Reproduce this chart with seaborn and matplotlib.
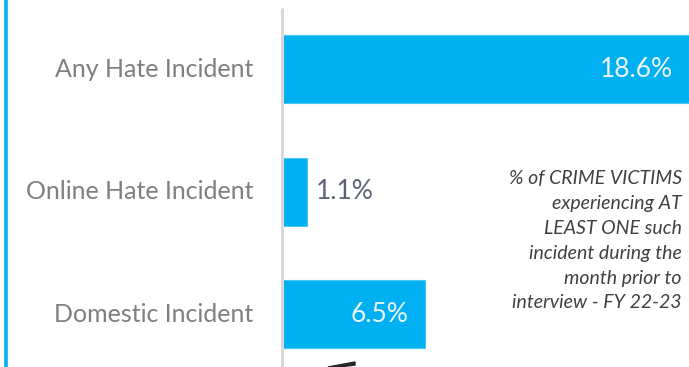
import matplotlib
matplotlib.use("Agg")
import matplotlib.pyplot as plt
import seaborn as sns
import pandas as pd
from matplotlib.patches import Polygon
from matplotlib.lines import Line2D

categories = ["Any Hate Incident", "Online Hate Incident", "Domestic Incident"]
values = [18.6, 1.1, 6.5]
value_labels = ["18.6%", "1.1%", "6.5%"]
note_lines = ["% of CRIME VICTIMS", "experiencing AT", "LEAST ONE such",
              "incident during the", "month prior to", "interview - FY 22-23"]

BLUE = "#00B0F0"
FONT = ["Lato", "DejaVu Sans"]

sns.set_theme(style="white")
plt.rcParams["font.family"] = FONT

df = pd.DataFrame({"category": categories, "value": values})

W, H = 689, 367
fig = plt.figure(figsize=(W / 100, H / 100), dpi=100)
ax = fig.add_axes([283 / W, 0, 406 / W, 1])

sns.barplot(data=df, y="category", x="value", order=categories, color=BLUE,
            saturation=1, width=0.555, edgecolor="#4cc8f4", linewidth=0.8, ax=ax)

ax.set_xlim(0, 18.6)
ax.set_ylim(2.429, -0.567)
ax.set_xlabel("")
ax.set_ylabel("")
ax.set_xticks([])
ax.set_yticks([])
for s in ax.spines.values():
    s.set_visible(False)

# category axis line
ax.plot([-0.05, -0.05], [2.429, -0.5], color="#d9d9d9", lw=2.2, clip_on=False,
        solid_capstyle="butt")

# category labels
for i, cat in enumerate(categories):
    fig.text(253 / W, 1 - (69.5 + 122.5 * i) / H, cat, ha="right", va="center",
             fontsize=18, color="#7f7f7f")

# value labels
for i, (v, lab) in enumerate(zip(values, value_labels)):
    if v > 3:
        ax.text(v - 0.75, i, lab, ha="right", va="center", fontsize=19,
                color="#eaf6fc")
    else:
        ax.text(v + 0.42, i, lab, ha="left", va="center", fontsize=19,
                color="#5b6473")

# side note
for j, line in enumerate(note_lines):
    fig.text(682 / W, 1 - (179 + 24.8 * j) / H, line, ha="right", va="center",
             fontsize=14, style="italic", color="#404040")

# left accent line
fig.add_artist(Line2D([5.5 / W, 5.5 / W], [0, 1], color=BLUE, lw=2.6,
                      transform=fig.transFigure))

# arrow tail at the bottom edge
fig.add_artist(Polygon([(328 / W, 0), (355 / W, 5 / H), (355 / W, 2 / H), (340 / W, 0)],
                       closed=True, color="#262626", transform=fig.transFigure))

fig.savefig("out.png", dpi=100)
